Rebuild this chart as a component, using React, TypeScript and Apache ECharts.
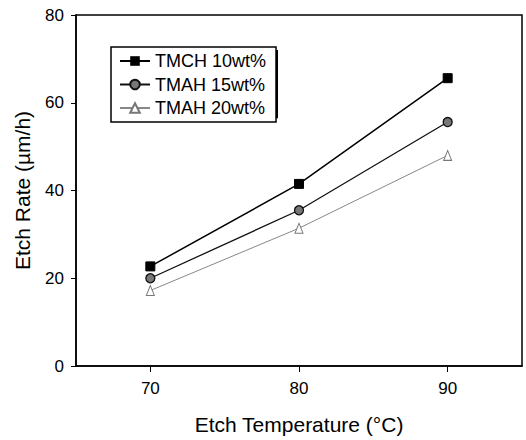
import React, { useEffect, useRef } from "react";
import * as echarts from "echarts";

const temperatures = [70, 80, 90];
const tmch10 = [22.7, 41.5, 65.6];
const tmah15 = [20.0, 35.5, 55.6];
const tmah20 = [17.2, 31.4, 48.0];
const seriesNames = ["TMCH 10wt%", "TMAH 15wt%", "TMAH 20wt%"];
const xTicks = [70, 80, 90];

const FONT = "'Liberation Sans', Arial, Helvetica, sans-serif";

export default function App() {
  const ref = useRef<HTMLDivElement>(null);
  useEffect(() => {
    if (!ref.current) return;
    const chart = echarts.init(ref.current, null, { renderer: "svg" });
    const pair = (vals: number[]) => temperatures.map((t, i) => [t, vals[i]]);
    chart.setOption({
      animation: false,
      backgroundColor: "#ffffff",
      textStyle: { fontFamily: FONT, color: "#000" },
      grid: {
        left: 76,
        right: 4,
        top: 15,
        bottom: 74,
        show: true,
        borderColor: "#000",
        borderWidth: 1.5,
        backgroundColor: "transparent",
      },
      legend: [
        {
          // drop shadow box behind the legend
          orient: "vertical",
          left: 114,
          top: 50,
          z: 1,
          selectedMode: false,
          data: seriesNames,
          formatter: () => "",
          itemWidth: 140,
          itemHeight: 18,
          itemGap: 5.5,
          padding: [5, 10, 5, 8],
          backgroundColor: "#000",
          borderWidth: 0,
          itemStyle: { color: "#000", borderColor: "#000" },
          lineStyle: { color: "#000" },
          textStyle: { fontFamily: FONT, fontSize: 18, color: "#000", lineHeight: 18 },
        },
        {
          orient: "vertical",
          left: 111,
          top: 47,
          z: 5,
          data: seriesNames,
          itemWidth: 30,
          itemHeight: 12,
          itemGap: 5.5,
          padding: [5, 10, 5, 8],
          backgroundColor: "#fff",
          borderColor: "#000",
          borderWidth: 1.5,
          borderRadius: 0,
          textStyle: { fontFamily: FONT, fontSize: 18, color: "#000", lineHeight: 18 },
        },
      ],
      xAxis: {
        type: "value",
        min: 65,
        max: 95,
        name: "Etch Temperature (°C)",
        nameLocation: "middle",
        nameGap: 48,
        nameTextStyle: { fontFamily: FONT, fontSize: 21, color: "#000" },
        axisLine: { show: true, lineStyle: { color: "#000", width: 1.5 } },
        axisTick: { show: true, inside: false, length: 6, customValues: xTicks, lineStyle: { color: "#000" } },
        axisLabel: { customValues: xTicks, fontFamily: FONT, fontSize: 17, color: "#000", margin: 14 },
        splitLine: { show: false },
      },
      yAxis: {
        type: "value",
        min: 0,
        max: 80,
        interval: 20,
        name: "Etch Rate (µm/h)",
        nameLocation: "middle",
        nameGap: 43,
        nameTextStyle: { fontFamily: FONT, fontSize: 21, color: "#000" },
        axisLine: { show: true, lineStyle: { color: "#000", width: 1.5 } },
        axisTick: { show: true, inside: false, length: 5, lineStyle: { color: "#000" } },
        axisLabel: { fontFamily: FONT, fontSize: 17, color: "#000", margin: 12 },
        splitLine: { show: false },
      },
      series: [
        {
          name: seriesNames[0],
          type: "line",
          data: pair(tmch10),
          symbol: "rect",
          symbolSize: 9,
          itemStyle: { color: "#000", borderColor: "#000" },
          lineStyle: { color: "#000", width: 1.5 },
        },
        {
          name: seriesNames[1],
          type: "line",
          data: pair(tmah15),
          symbol: "circle",
          symbolSize: 9,
          itemStyle: { color: "#777", borderColor: "#111", borderWidth: 1.3 },
          lineStyle: { color: "#111", width: 1.3 },
        },
        {
          name: seriesNames[2],
          type: "line",
          data: pair(tmah20),
          symbol: "triangle",
          symbolSize: [8, 10],
          itemStyle: { color: "#fff", borderColor: "#777", borderWidth: 1 },
          lineStyle: { color: "#888", width: 1 },
        },
      ],
    });
    return () => chart.dispose();
  }, []);
  return (
    <div
      ref={ref}
      style={{ position: "fixed", left: 0, top: 0, width: 526, height: 440, background: "#fff" }}
    />
  );
}
